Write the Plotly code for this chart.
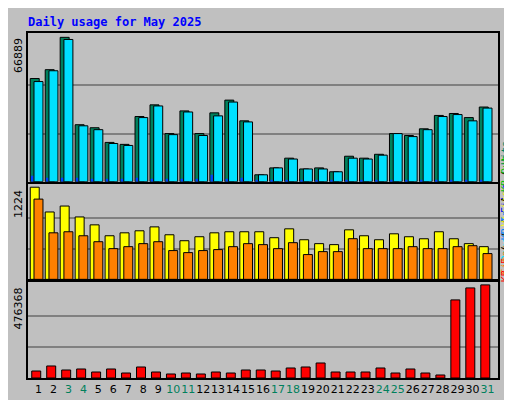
import plotly.graph_objects as go
from plotly.subplots import make_subplots

days = list(range(1, 32))
weekend = [3, 4, 10, 11, 17, 18, 24, 25, 31]

hits = [47800, 51900, 66889, 26400, 25000, 18200, 17300, 30200, 35600, 22300, 32800, 22300, 31900, 37800, 28200,
        3200, 6400, 10900, 5900, 6400, 4600, 11800, 10900, 12700, 22300, 21400, 24500, 30700, 31600, 29700, 34600]
files = [46400, 51400, 65900, 25900, 24100, 17700, 16800, 29700, 35100, 21800, 32300, 21400, 30500, 36900, 27700,
         3200, 6400, 10500, 5900, 5900, 4600, 10900, 10500, 12300, 22300, 20900, 24100, 30200, 31100, 28200, 34100]
pages = [2700, 1800, 1800, 1800, 1400, 1400, 1400, 1800, 1400, 1400, 1400, 1400, 3200, 1400, 1800,
         900, 900, 900, 900, 900, 900, 900, 900, 900, 900, 900, 900, 900, 900, 900, 900]

visits = [1224, 895, 974, 829, 724, 579, 618, 645, 697, 592, 513, 566, 618, 632, 632,
          632, 553, 671, 526, 474, 461, 658, 579, 526, 605, 566, 539, 632, 539, 474, 434]
sites = [1066, 618, 632, 579, 500, 408, 434, 474, 500, 382, 355, 382, 395, 434, 474,
         461, 408, 487, 329, 368, 368, 540, 408, 408, 408, 434, 408, 408, 434, 447, 342]

kbf = [35800, 61500, 41000, 46100, 30700, 46100, 25600, 56300, 30700, 20500, 25600, 20500, 30700, 25600, 41000,
       41000, 35800, 51200, 56300, 76800, 30700, 30700, 30700, 51200, 25600, 46100, 25600, 15400, 399500, 460900, 476368]

BG = "#c0c0c0"
fig = make_subplots(rows=3, cols=1, shared_xaxes=True, vertical_spacing=0.008,
                    row_heights=[0.431, 0.275, 0.278])

line = dict(color="black", width=1)
fig.add_trace(go.Bar(x=days, y=hits, width=0.6, offset=-0.55, marker=dict(color="#00805c", line=line)), 1, 1)
fig.add_trace(go.Bar(x=days, y=files, width=0.6, offset=-0.3, marker=dict(color="#00e0ff", line=line)), 1, 1)
fig.add_trace(go.Bar(x=days, y=pages, width=0.15, offset=-0.5, marker=dict(color="#0040ff", line=dict(width=0))), 1, 1)
fig.add_trace(go.Bar(x=days, y=visits, width=0.6, offset=-0.55, marker=dict(color="#ffff00", line=line)), 2, 1)
fig.add_trace(go.Bar(x=days, y=sites, width=0.6, offset=-0.3, marker=dict(color="#ff8000", line=line)), 2, 1)
fig.add_trace(go.Bar(x=days, y=kbf, width=0.6, offset=-0.45, marker=dict(color="#ff0000", line=line)), 3, 1)

maxes = [max(hits), max(visits), max(kbf)]
for i, m in enumerate(maxes, start=1):
    fig.update_yaxes(row=i, col=1, range=[0, m * 1.03], tickvals=[m / 3, 2 * m / 3],
                     showticklabels=False, gridcolor="#808080", gridwidth=1.5,
                     showline=True, linecolor="black", linewidth=2, mirror=True, zeroline=False)
fig.update_xaxes(range=[0.3, 31.7], showgrid=False, showline=True, linecolor="black",
                 linewidth=2, mirror=True, ticks="")
ticktext = [f"<span style='color:#00805c'>{d}</span>" if d in weekend else str(d) for d in days]
fig.update_xaxes(row=3, col=1, tickvals=days, ticktext=ticktext, tickangle=0,
                 tickfont=dict(family="DejaVu Sans", size=11, color="black"))

mono = "DejaVu Sans Mono"
ann = [
    dict(x=0.0, y=1.0, xref="paper", yref="paper", xanchor="left", yanchor="bottom", xshift=-2, yshift=2,
         text="<b>Daily usage for May 2025</b>", showarrow=False, font=dict(family=mono, size=12, color="#0000ff")),
]
tops = [1.0, 0.561, 0.278]
for m, yt in zip(maxes, tops):
    ann.append(dict(x=0, y=yt, xref="paper", yref="paper", xanchor="right", yanchor="top", xshift=-1, yshift=-3,
                    text=str(m), textangle=-90, showarrow=False, font=dict(family="DejaVu Sans", size=11, color="black")))
right = [
    (0.69, "<span style='color:#00e0ff'>Pages</span> / <span style='color:#0000ff'>Files</span> / <span style='color:#00805c'>Hits</span>"),
    (0.42, "<span style='color:#ff8000'>Sites</span> / <span style='color:#ffff00'>Visits</span>"),
    (0.27, "<span style='color:#ff0000'>KB F</span> / <span style='color:#0080ff'>KB In</span> / <span style='color:#00c000'>KB Out</span>"),
]
for y, t in right:
    ann.append(dict(x=1, y=y, xref="paper", yref="paper", xanchor="left", xshift=0, text=t, textangle=-90,
                    showarrow=False, font=dict(family=mono, size=10, color="black")))

fig.update_layout(width=512, height=400, showlegend=False, barmode="overlay",
                  paper_bgcolor=BG, plot_bgcolor=BG, annotations=ann,
                  margin=dict(l=20, r=22, t=25, b=22))
fig.write_html("out.html")
